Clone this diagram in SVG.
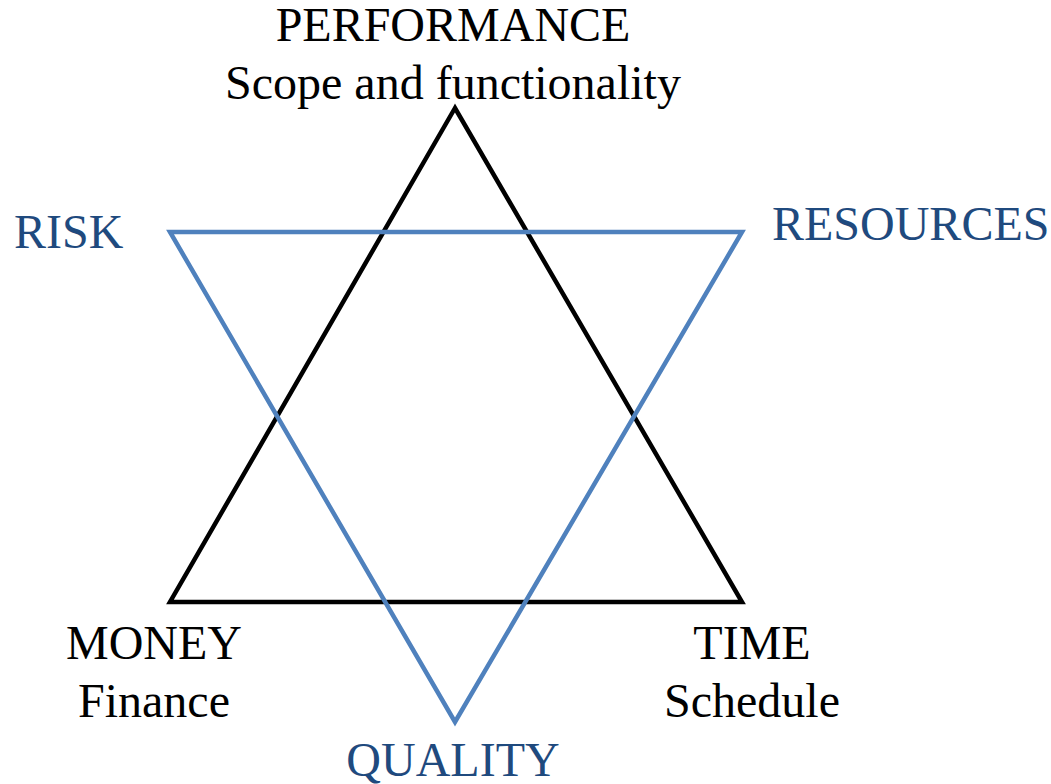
<svg xmlns="http://www.w3.org/2000/svg" width="1051" height="784" viewBox="0 0 1051 784">
<style>
text{font-family:"Liberation Serif","Times New Roman",serif;font-size:48px}
.k{fill:#000}
.b{fill:#1F4A7E}
.tri{fill:none;stroke-width:4.5;stroke-linejoin:miter}
</style>
<rect width="1051" height="784" fill="#fff"/>
<g id="connectors">
<polygon id="black-triangle" class="tri" stroke="#000" points="455,108 170,602 742,602"/>
<polygon id="blue-triangle" class="tri" stroke="#4F81BD" points="170,232 742,232 455,722"/>
</g>
<g id="performance"><text class="k" x="453" y="41" text-anchor="middle">PERFORMANCE</text><text class="k" x="453" y="99" text-anchor="middle">Scope and functionality</text></g>
<g id="risk"><text class="b" x="14" y="248">RISK</text></g>
<g id="resources"><text class="b" x="772" y="240">RESOURCES</text></g>
<g id="money"><text class="k" x="154" y="659" text-anchor="middle">MONEY</text><text class="k" x="154" y="717" text-anchor="middle">Finance</text></g>
<g id="time"><text class="k" x="752" y="659" text-anchor="middle">TIME</text><text class="k" x="752" y="717" text-anchor="middle">Schedule</text></g>
<g id="quality"><text class="b" x="453" y="776" text-anchor="middle">QUALITY</text></g>
</svg>
